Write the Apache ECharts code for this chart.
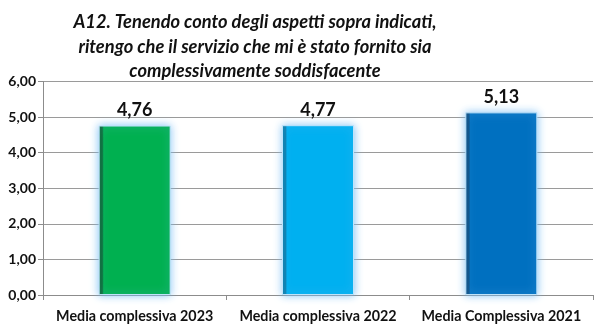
<!DOCTYPE html>
<html>
<head>
<meta charset="utf-8">
<script src="https://cdn.jsdelivr.net/npm/echarts@6/dist/echarts.min.js"></script>
<style>
html,body{margin:0;padding:0;background:#fff;}
#chart{width:605px;height:331px;}
</style>
</head>
<body>
<div id="chart"></div>
<script>
const categories = ['Media complessiva 2023', 'Media complessiva 2022', 'Media Complessiva 2021'];
const values = [4.76, 4.77, 5.13];
const barColors = ['#00B050', '#00B0F0', '#0070C0'];
const edgeColors = ['#0A6B35', '#0A7FAE', '#0B4F85'];
const yTicks = [0, 1, 2, 3, 4, 5, 6];
const titleLines = ['A12. Tenendo conto degli aspetti sopra indicati,', 'ritengo che il servizio che mi è stato fornito sia', 'complessivamente soddisfacente'];

const fontFam = 'Lato, "Open Sans", sans-serif';
const chart = echarts.init(document.getElementById('chart'));
chart.setOption({
  animation: false,
  backgroundColor: '#ffffff',
  title: {
    text: titleLines.join('\n'),
    left: 250,
    textAlign: 'center',
    top: 5,
    textStyle: {
      fontFamily: fontFam,
      fontSize: 18.3,
      fontWeight: 'bold',
      fontStyle: 'italic',
      color: '#111',
      lineHeight: 24.5
    }
  },
  grid: { left: 43, right: 12, top: 81.4, bottom: 36 },
  xAxis: {
    type: 'category',
    data: categories,
    axisLine: { lineStyle: { color: '#8c8c8c', width: 1 } },
    axisTick: { show: true, length: 5, lineStyle: { color: '#8c8c8c' } },
    axisLabel: { interval: 0, fontFamily: fontFam, fontSize: 14.3, fontWeight: 'bold', color: '#111', margin: 14 }
  },
  yAxis: {
    type: 'value',
    min: yTicks[0],
    max: yTicks[yTicks.length - 1],
    interval: 1,
    axisLine: { show: true, lineStyle: { color: '#8c8c8c' } },
    axisTick: { show: true, length: 5, inside: false, lineStyle: { color: '#8c8c8c' } },
    splitLine: { lineStyle: { color: '#9a9a9a', width: 1 } },
    axisLabel: {
      fontFamily: fontFam, fontSize: 14, fontWeight: 'bold', color: '#111', margin: 7,
      formatter: v => v.toFixed(2).replace('.', ',')
    }
  },
  series: [{
    type: 'bar',
    barWidth: 72,
    data: values.map((v, i) => ({
      value: v,
      itemStyle: {
        color: {
          type: 'linear', x: 0, y: 0, x2: 1, y2: 0,
          colorStops: [
            { offset: 0, color: edgeColors[i] },
            { offset: 0.05, color: edgeColors[i] },
            { offset: 0.07, color: barColors[i] },
            { offset: 1, color: barColors[i] }
          ]
        },
        borderColor: '#BFE3FA',
        borderWidth: 1,
        shadowColor: 'rgba(120,190,245,0.9)',
        shadowBlur: 8
      }
    })),
    label: {
      show: true,
      position: 'top',
      distance: 6,
      fontFamily: fontFam,
      fontSize: 18,
      fontWeight: 'bold',
      color: '#111',
      formatter: p => p.value.toFixed(2).replace('.', ',')
    }
  }]
});
</script>
</body>
</html>
